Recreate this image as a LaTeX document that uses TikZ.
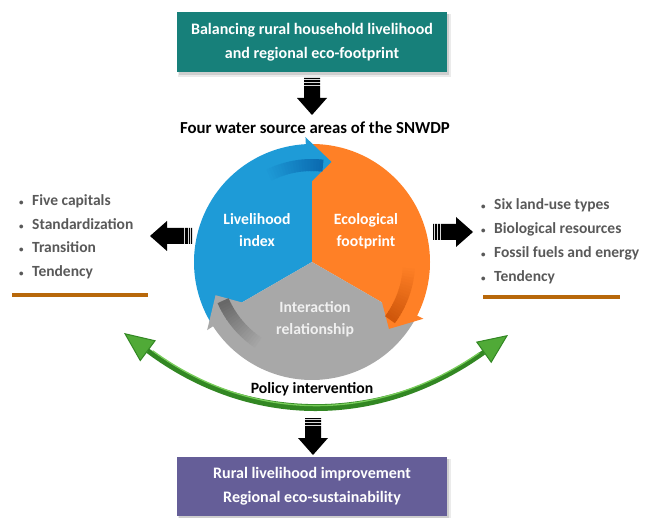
\documentclass[tikz,border=0pt]{standalone}
\usepackage{fontspec}
\setmainfont{Carlito}
\usetikzlibrary{arrows.meta,calc}
\definecolor{teal1}{RGB}{23,128,122}
\definecolor{purp}{RGB}{101,94,152}
\definecolor{cblue}{RGB}{30,155,215}
\definecolor{cblued}{RGB}{10,105,175}
\definecolor{corange}{RGB}{255,128,38}
\definecolor{coranged}{RGB}{205,85,10}
\definecolor{cgray}{RGB}{168,168,168}
\definecolor{cgrayd}{RGB}{100,100,100}
\definecolor{txtgray}{RGB}{89,89,89}
\definecolor{brown1}{RGB}{184,104,10}
\definecolor{green1}{RGB}{50,135,35}
\definecolor{green2}{RGB}{80,170,55}
\definecolor{green3}{RGB}{120,205,90}
\begin{document}
\begin{tikzpicture}[x=1pt,y=1pt,
  boxnode/.style={text=white, font=\fontsize{16}{24}\selectfont\bfseries, align=center,
    minimum width=270pt, minimum height=60pt, inner sep=0pt},
  sectortext/.style={text=white, font=\fontsize{15.7}{22}\selectfont\bfseries, align=center},
  listtext/.style={text=txtgray, font=\fontsize{15.5}{23.5}\selectfont\bfseries, align=left, inner sep=0pt},
  plaintext/.style={text=black, font=\fontsize{16.8}{18}\selectfont\bfseries},
  greenarc/.style={green1, line width=5pt,
    {Triangle[length=30pt,width=26pt,fill=green2,line width=1pt]}-{Triangle[length=30pt,width=26pt,fill=green2,line width=1pt]}},
  rule/.style={brown1, line width=3.5pt}
]
\useasboundingbox (0,0) rectangle (645,-518);
\newcommand{\bul}{\makebox[13pt][l]{\fontsize{9}{9}\selectfont\textbullet}}
\newcommand{\blkarrow}[4]{%
  \begin{scope}[shift={#2}, rotate=#3]
    \coordinate (#1) at (0,0);
    \fill[black] (0,-8) -- (#4-17,-8) -- (#4-17,-15) -- (#4,0) -- (#4-17,15) -- (#4-17,8) -- (0,8) -- cycle;
    \foreach \k in {1.5,4,7.5}{\draw[white, line width=0.9pt, opacity=0.85] (\k,-8.5) -- (\k,8.5);}
  \end{scope}}

% top box
\fill[black, opacity=0.08] (178,-14) rectangle (451,-77);
\fill[black, opacity=0.12] (179,-14) rectangle (449,-75);
\node[boxnode, fill=teal1] (top) at (312,-42.5) {Balancing rural household livelihood\\and regional eco-footprint};

% top arrow
\blkarrow{a1}{(312,-78)}{-90}{37}

\node[plaintext] (four) at (315,-128) {Four water source areas of the SNWDP};

% cycle
\coordinate (C) at (312,-262);
\foreach \a/\c in {90/cblue,-30/corange,210/cgray}{
  \pgfmathsetmacro{\s}{\a+120}
  \fill[\c] (C) -- ++(\s:118) arc[start angle=\s, end angle=\a, radius=118] -- cycle;
}
\foreach \a/\c/\d in {90/cblue/cblued,-30/corange/coranged,210/cgray/cgrayd}{
  \fill[\c] ($(C)+(\a+3:77)$) -- ($(C)+(\a+3:125)$) -- ($(C)+(\a-11:102)$) -- cycle;
  \foreach \i in {0,...,19}{
    \pgfmathsetmacro{\st}{\a+28-\i*1.7}
    \pgfmathsetmacro{\en}{\st-2.2}
    \pgfmathtruncatemacro{\pc}{5*\i}
    \draw[\d!\pc!\c, line width=12pt] ($(C)+(\st:97)$) arc[start angle=\st, end angle=\en, radius=97];
  }
}
\node[sectortext] (li) at (257,-230) {Livelihood\\index};
\node[sectortext] (ef) at (366,-231) {Ecological\\footprint};
\node[sectortext, text=white!94!black] (ir) at (315,-319) {Interaction\\relationship};

% side arrows
\blkarrow{al}{(192,-236)}{180}{42}
\blkarrow{ar}{(433,-232)}{0}{40}

% lists
\node[listtext, anchor=west] (ll) at (19,-237) {\bul Five capitals\\ \bul Standardization\\ \bul Transition\\ \bul Tendency};
\node[listtext, anchor=west, font=\fontsize{15.5}{24}\selectfont\bfseries] (rl) at (481,-241) {\bul Six land-use types\\ \bul Biological resources\\ \bul Fossil fuels and energy\\ \bul Tendency};
\draw[rule] (12,-295) -- (148,-295);
\draw[rule] (483,-297) -- (620,-297);

% green arc
\coordinate (gl) at (124,-333);
\coordinate (gr) at (508,-335);
\draw[greenarc] (gl) .. controls (250,-427) and (378,-428) .. (gr);
\fill[green1] (148,-351) .. controls (252,-421) and (376,-422) .. (484,-353)
  .. controls (376,-430) and (252,-429) .. (148,-351) -- cycle;
\draw[green3, line width=1.3pt, line cap=round] (153,-351) .. controls (252,-423) and (376,-424) .. (479,-353);
\node[plaintext, font=\fontsize{15.7}{18}\selectfont\bfseries] (pol) at (312,-389) {Policy intervention};

% bottom arrow
\blkarrow{a2}{(313,-418)}{-90}{37}

% bottom box
\fill[black, opacity=0.08] (178,-459) rectangle (451,-520);
\fill[black, opacity=0.12] (179,-459) rectangle (449,-518);
\node[boxnode, fill=purp, minimum height=59pt] (bot) at (312,-486.5) {Rural livelihood improvement\\Regional eco-sustainability};
\end{tikzpicture}
\end{document}
